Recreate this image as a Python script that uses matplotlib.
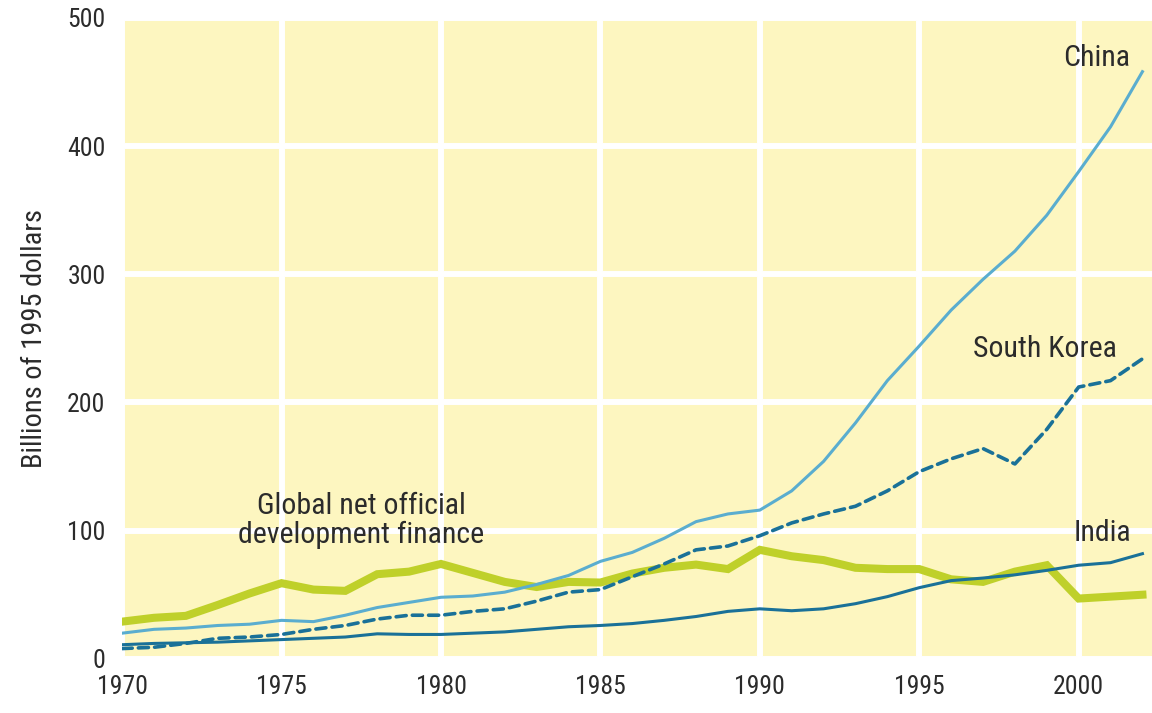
import matplotlib
matplotlib.use("Agg")
import matplotlib.pyplot as plt

plt.rcParams["font.family"] = ["Roboto Condensed", "Roboto", "DejaVu Sans"]

years = list(range(1970, 2003))

china = [20, 23, 24, 26, 27, 30, 29, 34, 40, 44, 48, 49, 52, 58, 65, 76, 83, 94,
         107, 113, 116, 131, 154, 184, 217, 244, 272, 296, 318, 346, 380, 415, 458]
south_korea = [8, 9, 12, 16, 17, 19, 23, 26, 31, 34, 34, 37, 39, 45, 52, 54, 64, 74,
               85, 88, 96, 106, 113, 119, 131, 146, 156, 164, 152, 179, 212, 217, 234]
india = [11, 12, 12.5, 13, 14, 15, 16, 17, 19.5, 19, 19, 20, 21, 23, 25, 26, 27.5, 30,
         33, 37, 39, 37.5, 39, 43, 48.5, 55.5, 61, 63, 65.5, 69, 73, 75, 82]
odf = [29, 32, 33.5, 42, 51, 59, 54, 53, 66, 68, 74, 67, 60, 56, 60, 59.5, 66.5, 71,
       73.5, 70, 85, 80, 77, 71, 70, 70, 62, 60, 68, 73, 47, 48.5, 50]

x_ticks = [1970, 1975, 1980, 1985, 1990, 1995, 2000]
y_ticks = [0, 100, 200, 300, 400, 500]

BG = "#fdf6c0"
LIGHT_BLUE = "#5aadcf"
DARK_TEAL = "#1a7198"
GREEN = "#bfd02a"
TXT = "#2b2b2b"

fig = plt.figure(figsize=(11.52, 7.13), dpi=100)
ax = fig.add_axes([0.106, 0.076, 0.894, 0.899])
ax.set_facecolor(BG)

ax.plot(years, odf, color=GREEN, lw=5.8, solid_joinstyle="miter", zorder=3)
ax.plot(years, india, color=DARK_TEAL, lw=2.2, zorder=4)
ax.plot(years, south_korea, color=DARK_TEAL, lw=2.6, ls=(0, (2.8, 1.7)),
        dash_capstyle="round", zorder=4)
ax.plot(years, china, color=LIGHT_BLUE, lw=2.2, zorder=4)

ax.set_xlim(1970, 2002.3)
ax.set_ylim(0, 500)
ax.set_xticks(x_ticks)
ax.set_yticks(y_ticks)
ax.grid(True, color="white", lw=4.3, zorder=1)
ax.set_axisbelow(True)
for s in ax.spines.values():
    s.set_visible(False)
ax.tick_params(length=0, labelsize=18.5, colors=TXT, pad=12)
ax.tick_params(axis="y", pad=12)
ax.set_ylabel("Billions of 1995 dollars", fontsize=20.5, color=TXT, labelpad=14)

ax.text(2001.6, 469, "China", fontsize=21.5, color=TXT, ha="right", va="center")
ax.text(2001.2, 242, "South Korea", fontsize=21.5, color=TXT, ha="right", va="center")
ax.text(2001.65, 98, "India", fontsize=21.5, color=TXT, ha="right", va="center")
ax.text(1977.5, 108, "Global net official\ndevelopment finance", fontsize=21.5,
        color=TXT, ha="center", va="center", linespacing=1.05)

fig.savefig("out.png", dpi=100)
